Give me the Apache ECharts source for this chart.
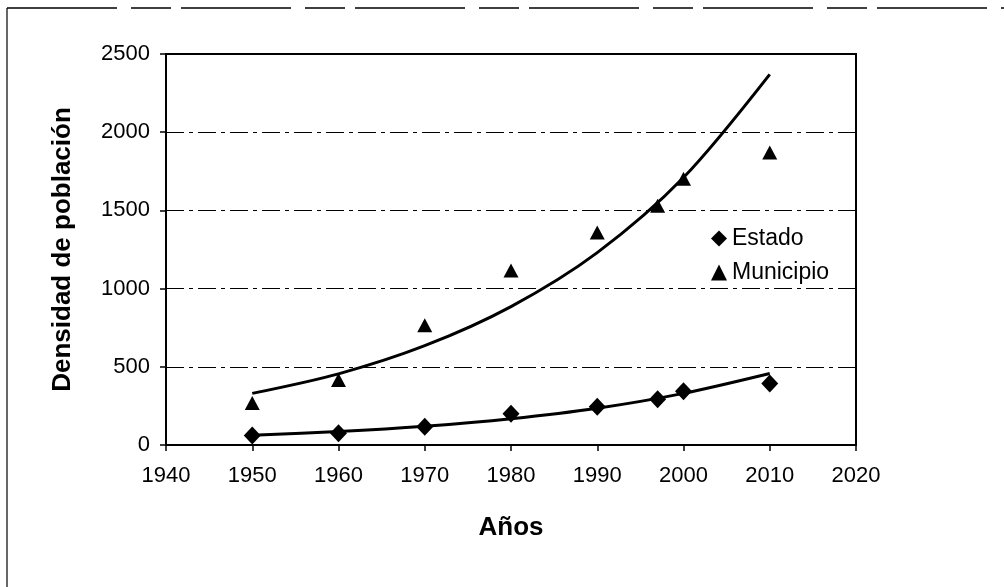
<!DOCTYPE html>
<html>
<head>
<meta charset="utf-8">
<script src="https://cdn.jsdelivr.net/npm/echarts@6/dist/echarts.min.js"></script>
<style>
  html, body { margin: 0; padding: 0; background: #fff; }
  #main { width: 1004px; height: 587px; }
</style>
</head>
<body>
<div id="main"></div>
<script>
// puntos observados
const years = [1950, 1960, 1970, 1980, 1990, 1997, 2000, 2010]
const estado = [60, 75, 117, 200, 244, 293, 344, 393]
const municipio = [268, 415, 765, 1115, 1358, 1530, 1703, 1870]

// curvas de tendencia
const trendYears = [1950, 1960, 1970, 1980, 1990, 2000, 2010]
const estadoTrend = [62, 86, 120, 168, 235, 330, 457]
const municipioTrend = [330, 455, 635, 885, 1230, 1710, 2370]

const FONT = '"Liberation Sans", Arial, sans-serif'

const pair = (xs, ys) => xs.map((x, i) => [x, ys[i]])

const chart = echarts.init(document.getElementById('main'))

chart.setOption({
  backgroundColor: '#fff',
  animation: false,
  textStyle: { fontFamily: FONT, color: '#000' },
  grid: {
    left: 166, right: 148, top: 54, bottom: 142,
    show: true, borderColor: '#000', borderWidth: 2
  },
  legend: {
    data: ['Estado', 'Municipio'],
    orient: 'vertical',
    left: 706,
    top: 222,
    itemWidth: 16,
    itemHeight: 16,
    itemGap: 11,
    textStyle: { fontSize: 23, color: '#000', fontFamily: FONT }
  },
  xAxis: {
    type: 'value',
    min: 1940, max: 2020, interval: 10,
    name: 'Años',
    nameLocation: 'middle',
    nameGap: 70,
    nameTextStyle: { fontSize: 26, fontWeight: 'bold', color: '#000', fontFamily: FONT },
    axisLine: { lineStyle: { color: '#000', width: 2 } },
    axisTick: { length: 6, lineStyle: { color: '#000', width: 1.5 } },
    axisLabel: { fontSize: 22, color: '#000', margin: 20, fontFamily: FONT, formatter: v => String(v) },
    splitLine: { show: false }
  },
  yAxis: {
    type: 'value',
    min: 0, max: 2500, interval: 500,
    name: 'Densidad de población',
    nameLocation: 'middle',
    nameGap: 90,
    nameTextStyle: { fontSize: 26, fontWeight: 'bold', color: '#000', fontFamily: FONT },
    axisLine: { show: true, lineStyle: { color: '#000', width: 2 } },
    axisTick: { show: true, length: 6, lineStyle: { color: '#000', width: 1.5 } },
    axisLabel: { fontSize: 22, color: '#000', margin: 16, fontFamily: FONT, formatter: v => String(v) },
    splitLine: { lineStyle: { color: '#000', width: 1.2, type: [18, 5, 4, 5] } }
  },
  graphic: [
    { type: 'line', shape: { x1: 7, y1: 8, x2: 1004, y2: 8 },
      style: { stroke: '#000', lineWidth: 1.5, lineDash: [110, 14, 40, 10] } },
    { type: 'line', shape: { x1: 7, y1: 8, x2: 7, y2: 587 },
      style: { stroke: '#000', lineWidth: 1.2 } }
  ],
  series: [
    {
      name: 'tendEstado', type: 'line', smooth: 0.3, showSymbol: false,
      data: pair(trendYears, estadoTrend),
      lineStyle: { color: '#000', width: 3 }, z: 2
    },
    {
      name: 'tendMunicipio', type: 'line', smooth: 0.3, showSymbol: false,
      data: pair(trendYears, municipioTrend),
      lineStyle: { color: '#000', width: 3 }, z: 2
    },
    {
      name: 'Estado', type: 'scatter', symbol: 'diamond', symbolSize: [17, 18],
      data: pair(years, estado),
      itemStyle: { color: '#000', opacity: 1 }, z: 3
    },
    {
      name: 'Municipio', type: 'scatter', symbol: 'triangle', symbolSize: [15, 14],
      data: pair(years, municipio),
      itemStyle: { color: '#000', opacity: 1 }, z: 3
    }
  ]
})
</script>
</body>
</html>
